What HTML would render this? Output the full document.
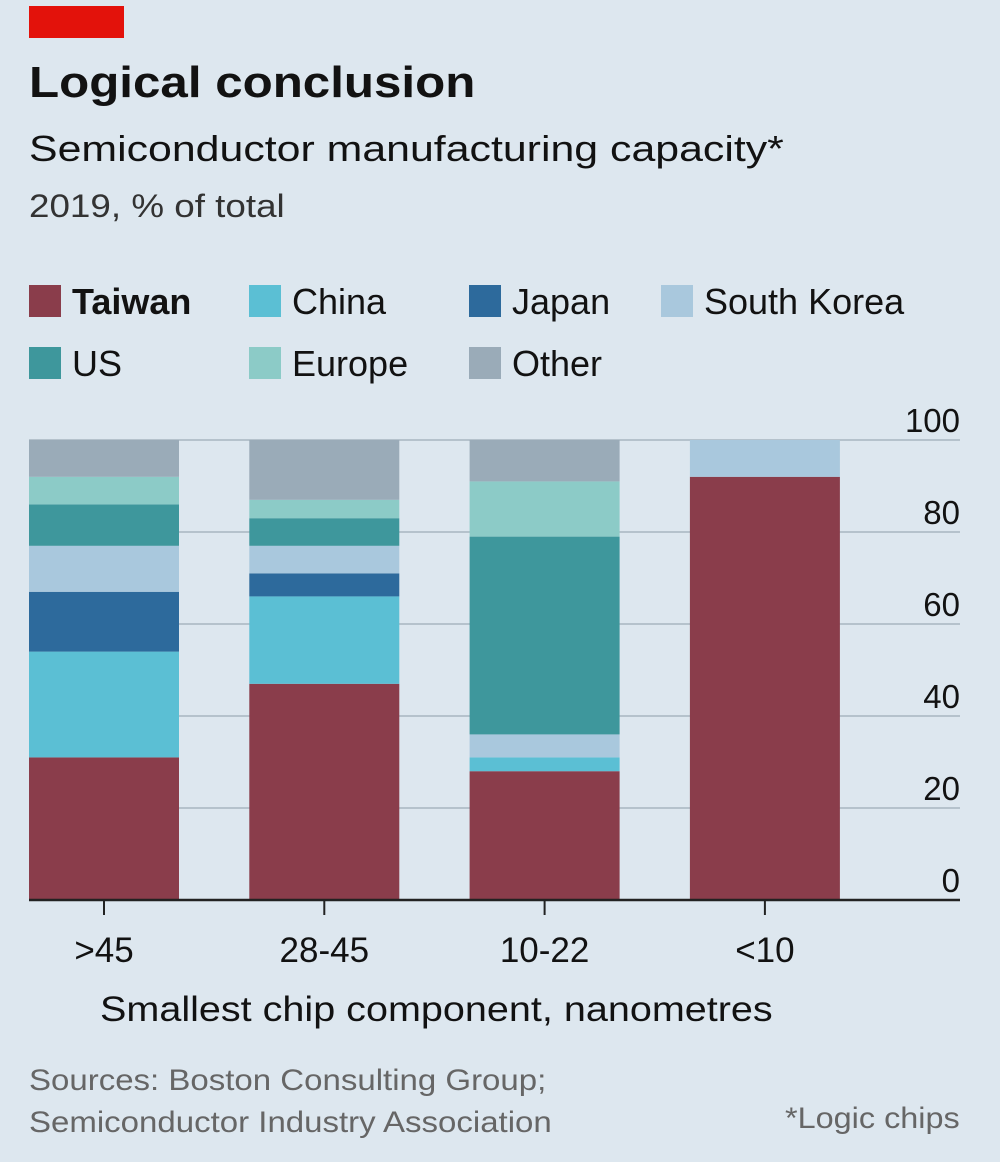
<!DOCTYPE html>
<html><head><meta charset="utf-8"><style>
body{margin:0;width:1000px;height:1162px;background:#dde7ef;font-family:"Liberation Sans",sans-serif;overflow:hidden;position:relative}
.t{position:absolute;white-space:nowrap;color:#121212;transform-origin:left top}
</style></head><body>
<div style="position:absolute;left:29px;top:6px;width:95px;height:32px;background:#e3120b"></div>
<div class="t" style="left:29px;top:58px;font-size:44px;font-weight:bold;transform:scaleX(1.12)">Logical conclusion</div>
<div class="t" style="left:29px;top:128px;font-size:36px;transform:scaleX(1.19)">Semiconductor manufacturing capacity*</div>
<div class="t" style="left:29px;top:188px;font-size:32px;color:#333;transform:scaleX(1.15)">2019, % of total</div>
<svg id="chart" width="1000" height="1162" style="position:absolute;left:0;top:0"></svg>
<div class="t" style="left:100px;top:990px;font-size:35px;transform:scaleX(1.13)">Smallest chip component, nanometres</div>
<div class="t" style="left:29px;top:1060px;font-size:30px;color:#666;line-height:42px;transform:scaleX(1.1)">Sources: Boston Consulting Group;<br>Semiconductor Industry Association</div>
<div class="t" style="left:785px;top:1102px;font-size:30px;color:#666;transform:scaleX(1.08)">*Logic chips</div>
<script>
const categories=[">45","28-45","10-22","<10"];
const seriesNames=["Taiwan","China","Japan","South Korea","US","Europe","Other"];
const taiwan=[31,47,28,92];
const china=[23,19,3,0];
const japan=[13,5,0,0];
const southKorea=[10,6,5,8];
const us=[9,6,43,0];
const europe=[6,4,12,0];
const other=[8,13,9,0];
const ticks=[0,20,40,60,80,100];
const colors=["#8a3d4b","#5bbfd4","#2d6a9c","#a9c8dd","#3e979c","#8ccbc7","#9aabb8"];
const series=[taiwan,china,japan,southKorea,us,europe,other];
const NS="http://www.w3.org/2000/svg";
const svg=document.getElementById('chart');
const y=v=>900-v*4.6;
const x=i=>29+i*220.3;
function mk(tag,attrs){const e=document.createElementNS(NS,tag);for(const k in attrs)e.setAttribute(k,attrs[k]);svg.appendChild(e);return e;}
ticks.forEach(t=>{
 if(t>0){const g=mk('line',{x1:29,x2:960,y1:y(t),y2:y(t),stroke:'#b5c2cc','stroke-width':2});
 
 }
 const l=mk('text',{x:960,y:y(t)-8,'text-anchor':'end','font-size':33,fill:'#121212','font-family':'Liberation Sans'});
 l.textContent=t;
 
 
});
categories.forEach((c,i)=>{
 let acc=0;
 series.forEach((s,k)=>{
  const v=s[i]; if(v<=0) return;
  const r=mk('rect',{x:x(i),width:150,y:y(acc+v),height:v*4.6,fill:colors[k]});
  
  
  acc+=v;
 });
 const tk=mk('line',{x1:x(i)+75,x2:x(i)+75,y1:900,y2:915,stroke:'#222','stroke-width':2});
 
 
 const l=mk('text',{x:x(i)+75,y:962,'text-anchor':'middle','font-size':35,fill:'#121212','font-family':'Liberation Sans'});
 l.textContent=c;
 
 
});
const base=mk('line',{x1:29,x2:960,y1:900,y2:900,stroke:'#222','stroke-width':2.5});


const lx=[29,249,469,661,29,249,469],ly=[301,301,301,301,363,363,363];
seriesNames.forEach((n,k)=>{
 const r=mk('rect',{x:lx[k],y:ly[k]-16,width:32,height:32,fill:colors[k]});
 
 
 const t=mk('text',{x:lx[k]+43,y:ly[k]+13,'font-size':36,fill:'#121212','font-family':'Liberation Sans','font-weight':k==0?'bold':'normal'});
 t.textContent=n;
 
 
});
</script>
</body></html>
